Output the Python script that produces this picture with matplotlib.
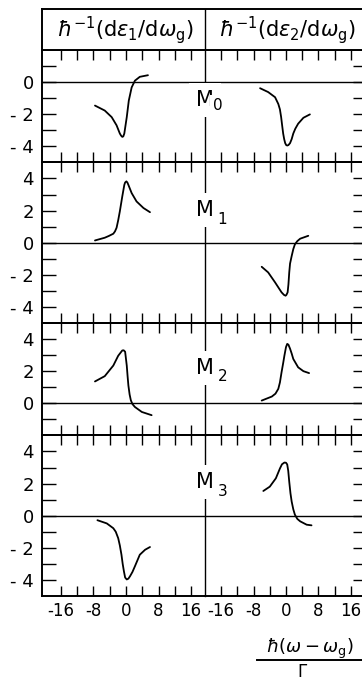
import matplotlib
matplotlib.use('Agg')
import matplotlib.pyplot as plt

plt.rcParams['axes.unicode_minus'] = False
plt.rcParams['mathtext.fontset'] = 'dejavusans'
plt.rcParams['font.family'] = ['DejaVu Sans']

# ---------------- data ----------------
panel_names = ["0", "1", "2", "3"]
panel_ylims = [(-5, 2), (-5, 5), (-2, 5), (-5, 5)]
x_ticks = [-16, -12, -8, -4, 0, 4, 8, 12, 16]
x_tick_labels = ["-16", "", "-8", "", "0", "", "8", "", "16"]
header_left = r"$\hbar^{-1}(\mathrm{d}\varepsilon_1/\mathrm{d}\omega_\mathrm{g})$"
header_right = r"$\hbar^{-1}(\mathrm{d}\varepsilon_2/\mathrm{d}\omega_\mathrm{g})$"

M0_left_x = [-7.6, -5.2, -3.5, -2.3, -1.5, -1.2, -0.9, -0.65, -0.4, 0.2, 0.7, 1.4, 2.2, 3.4, 5.4]
M0_left_y = [-1.46, -1.77, -2.18, -2.69, -3.2, -3.33, -3.41, -3.38, -3.2, -2.18, -1.15, -0.33, 0.09, 0.33, 0.43]
M0_right_x = [-6.4, -4.4, -2.7, -1.9, -1.5, -1.2, -0.95, -0.7, -0.45, -0.2, 0.05, 0.3, 0.6, 1.0, 1.4, 1.8, 2.3, 3.0, 4.3, 5.9]
M0_right_y = [-0.38, -0.62, -0.94, -1.36, -1.7, -2.18, -2.7, -3.2, -3.55, -3.8, -3.92, -3.95, -3.92, -3.8, -3.55, -3.2, -2.9, -2.59, -2.22, -2.01]

M1_left_x = [-7.6, -5.2, -4.2, -3.1, -2.7, -2.3, -1.9, -1.5, -0.9, -0.4, -0.2, 0.1, 0.35, 0.6, 1.4, 2.6, 4.3, 5.9]
M1_left_y = [0.14, 0.31, 0.42, 0.56, 0.7, 0.93, 1.4, 1.95, 2.88, 3.6, 3.75, 3.82, 3.75, 3.6, 3.09, 2.57, 2.16, 1.9]
M1_right_x = [-6.0, -4.4, -2.7, -1.1, -0.5, -0.1, 0.1, 0.4, 0.6, 0.8, 1.0, 1.4, 1.8, 2.2, 2.8, 3.5, 5.5]
M1_right_y = [-1.5, -1.85, -2.47, -3.09, -3.25, -3.3, -3.25, -3.09, -2.6, -1.85, -1.3, -0.83, -0.4, -0.1, 0.1, 0.25, 0.43]

M2_left_x = [-7.6, -5.2, -3.1, -1.9, -0.9, -0.55, -0.2, 0.2, 0.4, 0.6, 0.9, 1.2, 1.6, 2.2, 3.9, 6.3]
M2_left_y = [1.36, 1.69, 2.35, 2.96, 3.29, 3.3, 3.21, 2.35, 1.7, 1.11, 0.55, 0.19, -0.05, -0.23, -0.54, -0.74]
M2_right_x = [-6.0, -3.5, -2.6, -1.9, -1.5, -1.1, -0.7, -0.4, 0.0, 0.3, 0.6, 1.0, 1.4, 1.8, 3.0, 4.3, 5.7]
M2_right_y = [0.17, 0.42, 0.6, 0.9, 1.3, 1.93, 2.5, 2.96, 3.5, 3.7, 3.65, 3.4, 3.1, 2.76, 2.24, 2.0, 1.88]

M3_left_x = [-7.0, -4.7, -3.1, -2.5, -1.9, -1.5, -1.1, -0.8, -0.5, -0.2, 0.2, 0.6, 1.0, 1.6, 2.2, 3.4, 4.7, 5.9]
M3_left_y = [-0.28, -0.48, -0.78, -1.0, -1.4, -1.85, -2.43, -3.0, -3.46, -3.85, -3.97, -3.92, -3.77, -3.5, -3.15, -2.43, -2.12, -1.95]
M3_right_x = [-5.6, -4.0, -2.5, -1.5, -1.0, -0.4, 0.0, 0.3, 0.55, 0.8, 1.1, 1.4, 1.8, 2.2, 2.8, 3.5, 5.1, 6.3]
M3_right_y = [1.54, 1.81, 2.33, 2.94, 3.2, 3.31, 3.3, 3.19, 2.8, 2.12, 1.4, 0.88, 0.4, 0.06, -0.2, -0.35, -0.56, -0.6]

curves_left = [(M0_left_x, M0_left_y), (M1_left_x, M1_left_y),
               (M2_left_x, M2_left_y), (M3_left_x, M3_left_y)]
curves_right = [(M0_right_x, M0_right_y), (M1_right_x, M1_right_y),
                (M2_right_x, M2_right_y), (M3_right_x, M3_right_y)]

# ---------------- layout ----------------
W, H = 362, 686
fig = plt.figure(figsize=(W / 100, H / 100), dpi=100)


def fx(px):
    return px / W


def fy(py):
    return 1 - py / H


XL, XM, XR = 42, 205, 367
TOP, BOT = 50, 596
HEAD_TOP = 9
units = sum(b - a for a, b in panel_ylims)
ppu = (BOT - TOP) / units

LW_FRAME = 1.4
LW_THIN = 1.0
LW_CURVE = 1.3

label_pos = [  # (M x, M baseline y, subscript x, subscript baseline y) in pixels
    (205, 106, 218, 110),
    (205, 216, 222, 224),
    (205, 374, 223, 381),
    (205, 488, 223, 496),
]

y_top = TOP
for i, (ylim, name) in enumerate(zip(panel_ylims, panel_names)):
    h = (ylim[1] - ylim[0]) * ppu
    y_bot = y_top + h
    axL = fig.add_axes([fx(XL), fy(y_bot), fx(XM) - fx(XL), h / H])
    axR = fig.add_axes([fx(XM), fy(y_bot), fx(XR) - fx(XM), h / H])
    for ax, (cx, cy), xlim in ((axL, curves_left[i], (-20.6, 19.4)),
                               (axR, curves_right[i], (-20.0, 20.0))):
        ax.set_facecolor('none')
        ax.set_xlim(*xlim)
        ax.set_ylim(*ylim)
        ax.axhline(0, color='black', lw=LW_THIN, zorder=1)
        ax.plot(cx, cy, color='black', lw=LW_CURVE, solid_capstyle='round',
                solid_joinstyle='round', zorder=2)
        ax.set_xticks(x_ticks)
        last = (i == len(panel_ylims) - 1)
        ax.set_xticklabels(x_tick_labels if last else [''] * len(x_ticks))
        ax.tick_params(axis='x', which='both', direction='in', top=True, bottom=True,
                       length=7.5, width=1.0, labelbottom=last, labelsize=12, pad=4)
        major = [v for v in range(ylim[0] + 1, ylim[1]) if v % 2 == 0]
        minor = [v for v in range(ylim[0] + 1, ylim[1]) if v % 2 != 0]
        ax.set_yticks(major)
        ax.set_yticks(minor, minor=True)
        for s in ax.spines.values():
            s.set_linewidth(LW_FRAME)
    labels = [("- %d" % (-v)) if v < 0 else str(v) for v in major]
    axL.set_yticklabels(labels)
    axL.tick_params(axis='y', which='both', direction='in', left=True, right=False,
                    length=10, width=1.0, labelsize=13, pad=6)
    axR.tick_params(axis='y', which='both', direction='in', left=False, right=True,
                    length=10, width=1.0, labelleft=False)
    axL.spines['right'].set_linewidth(LW_THIN)
    axR.spines['left'].set_visible(False)

    mx, my, sx, sy = label_pos[i]
    fig.text(fx(mx), fy(my), "M", ha='center', va='baseline', fontsize=15,
             bbox=dict(facecolor='white', edgecolor='none', pad=5), zorder=5)
    fig.text(fx(sx), fy(sy), name, ha='center', va='baseline', fontsize=11,
             bbox=dict(facecolor='white', edgecolor='none', pad=2), zorder=5)
    y_top = y_bot

# header box
axH = fig.add_axes([fx(XL), fy(TOP), fx(XR) - fx(XL), (TOP - HEAD_TOP) / H])
axH.set_xlim(XL, XR)
axH.set_ylim(0, 1)
axH.set_xticks([])
axH.set_yticks([])
axH.axvline(XM, color='black', lw=LW_THIN)
for s in axH.spines.values():
    s.set_linewidth(LW_FRAME)
fig.text(fx(125), fy(30), header_left, ha='center', va='center', fontsize=15)
fig.text(fx(287), fy(30), header_right, ha='center', va='center', fontsize=15)

# axis label as a fraction
fig.text(fx(310), fy(653), r"$\hbar(\omega - \omega_\mathrm{g})$", ha='center', va='baseline', fontsize=13)
fig.add_artist(plt.Line2D([fx(257), fx(367)], [fy(660), fy(660)], color='black', lw=LW_FRAME))
fig.text(fx(302), fy(663), "\u0393", ha='center', va='top', fontsize=12)

fig.savefig('out.png', dpi=100)
